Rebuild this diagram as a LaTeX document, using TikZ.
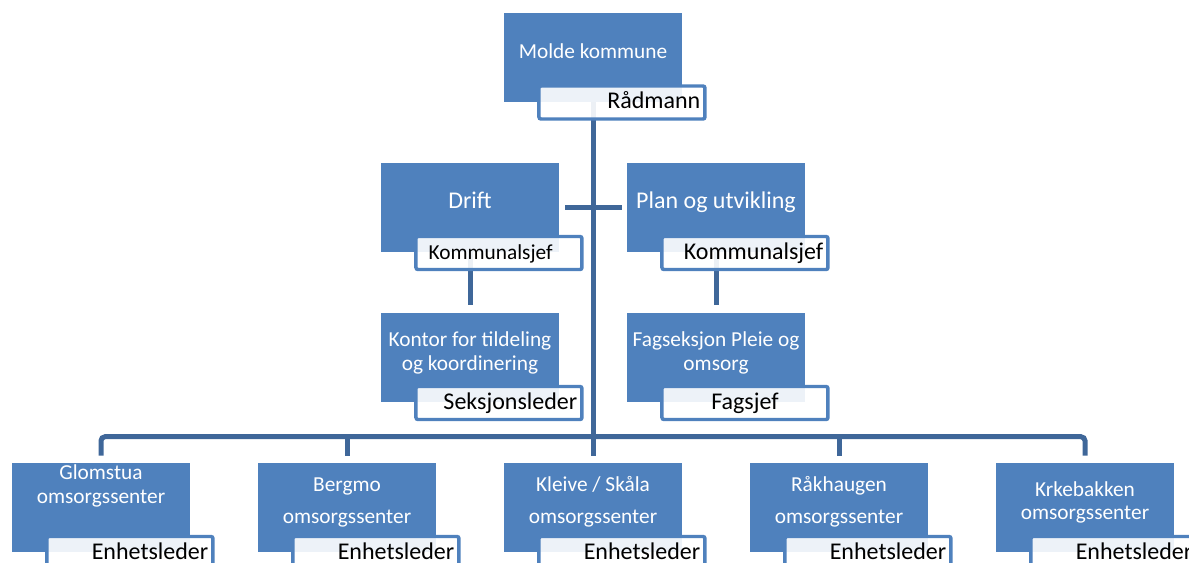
\documentclass[tikz,border=0pt]{standalone}
\usepackage{fontspec}
\setmainfont{Carlito}
\usetikzlibrary{positioning}
\definecolor{boxblue}{RGB}{79,129,189}
\definecolor{lineblue}{RGB}{63,103,153}

\begin{document}
\begin{tikzpicture}[x=0.75pt, y=-0.75pt, node distance=184.5pt,
    box/.style = {fill=boxblue, text=white, minimum width=133.5pt, minimum height=66.75pt,
                  inner sep=0pt, align=center, font=\fontsize{16}{18}\selectfont,
                  text height=#1, text depth=10pt},
    box/.default = 10.75pt,
    lbl/.style = {draw=boxblue, line width=2.6pt, fill=white, fill opacity=0.9, text opacity=1,
                  rounded corners=1.5pt, minimum height=24.75pt, text width=117.5pt,
                  inner xsep=3.5pt, inner ysep=0pt, align=#1, font=\fontsize{18}{20}\selectfont,
                  text height=12pt, text depth=3pt, anchor=north west},
    lbl/.default = right,
    conn/.style = {draw=lineblue, line width=3.75pt}]
        \useasboundingbox (0,0) rectangle (1189,562);
        \node[box=11.5pt] (top)    at (593,57)    {Molde kommune};
        \node[box, font=\fontsize{18}{20}\selectfont] (drift)  at (470,207.5) {Drift};
        \node[box, font=\fontsize{18}{20}\selectfont] (plan)   [right of=drift] {Plan og utvikling};
        \node[box=28.75pt] (kontor) [below of=drift, node distance=112.5pt] {Kontor for tildeling\\og koordinering};
        \node[box=28.75pt] (fag)    [right of=kontor] {Fagseksjon Pleie og\\omsorg};
        \node[box=3.25pt]  (glom)   at (101,507.5) {Glomstua\\omsorgssenter};
        \node[box=33.25pt] (berg)   [right of=glom]   {Bergmo\\[6pt]omsorgssenter};
        \node[box=33.25pt] (kleive) [right of=berg]   {Kleive / Skåla\\[6pt]omsorgssenter};
        \node[box=33.25pt] (raak)   [right of=kleive] {Råkhaugen\\[6pt]omsorgssenter};
        \node[box=27.25pt] (krke)   [right of=raak]   {Krkebakken\\[-1pt]omsorgssenter};
        % connectors
        \draw[conn, shorten >=5.25pt] (top.south) -- (kleive.north);
        \draw[conn, shorten <=4.5pt, shorten >=3.75pt] (drift.east) -- (plan.west);
        \draw[conn, shorten >=6pt] (drift.south) -- (kontor.north);
        \draw[conn, shorten >=6pt] (plan.south) -- (fag.north);
        \draw[conn, rounded corners=3pt, shorten <=5.25pt, shorten >=5.25pt] (glom.north) -- ++(0,-26) -| (krke.north);
        \draw[conn, shorten <=5.25pt] (berg.north) -- ++(0,-26);
        \draw[conn, shorten <=5.25pt] (raak.north) -- ++(0,-26);
        % labels
        \node[lbl] (topl) at ([shift={(33.5,-17.5)}]top.south west) {Rådmann};
        \node[lbl=left, font=\fontsize{16}{18}\selectfont] (driftl) at ([shift={(33.5,-17.5)}]drift.south west) {\hspace*{6pt}Kommunalsjef};
        \node[lbl] (planl) at ([shift={(33.5,-17.5)}]plan.south west) {Kommunalsjef};
        \node[lbl] (kontorl) at ([shift={(33.5,-17.5)}]kontor.south west) {Seksjonsleder};
        \node[lbl=center] (fagl) at ([shift={(33.5,-17.5)}]fag.south west) {Fagsjef};
        \node[lbl] (gloml) at ([shift={(33.5,-17.5)}]glom.south west) {Enhetsleder};
        \node[lbl] (bergl) at ([shift={(33.5,-17.5)}]berg.south west) {Enhetsleder};
        \node[lbl] (kleivel) at ([shift={(33.5,-17.5)}]kleive.south west) {Enhetsleder};
        \node[lbl] (raakl) at ([shift={(33.5,-17.5)}]raak.south west) {Enhetsleder};
        \node[lbl] (krkel) at ([shift={(33.5,-17.5)}]krke.south west) {Enhetsleder};
\end{tikzpicture}
\end{document}
